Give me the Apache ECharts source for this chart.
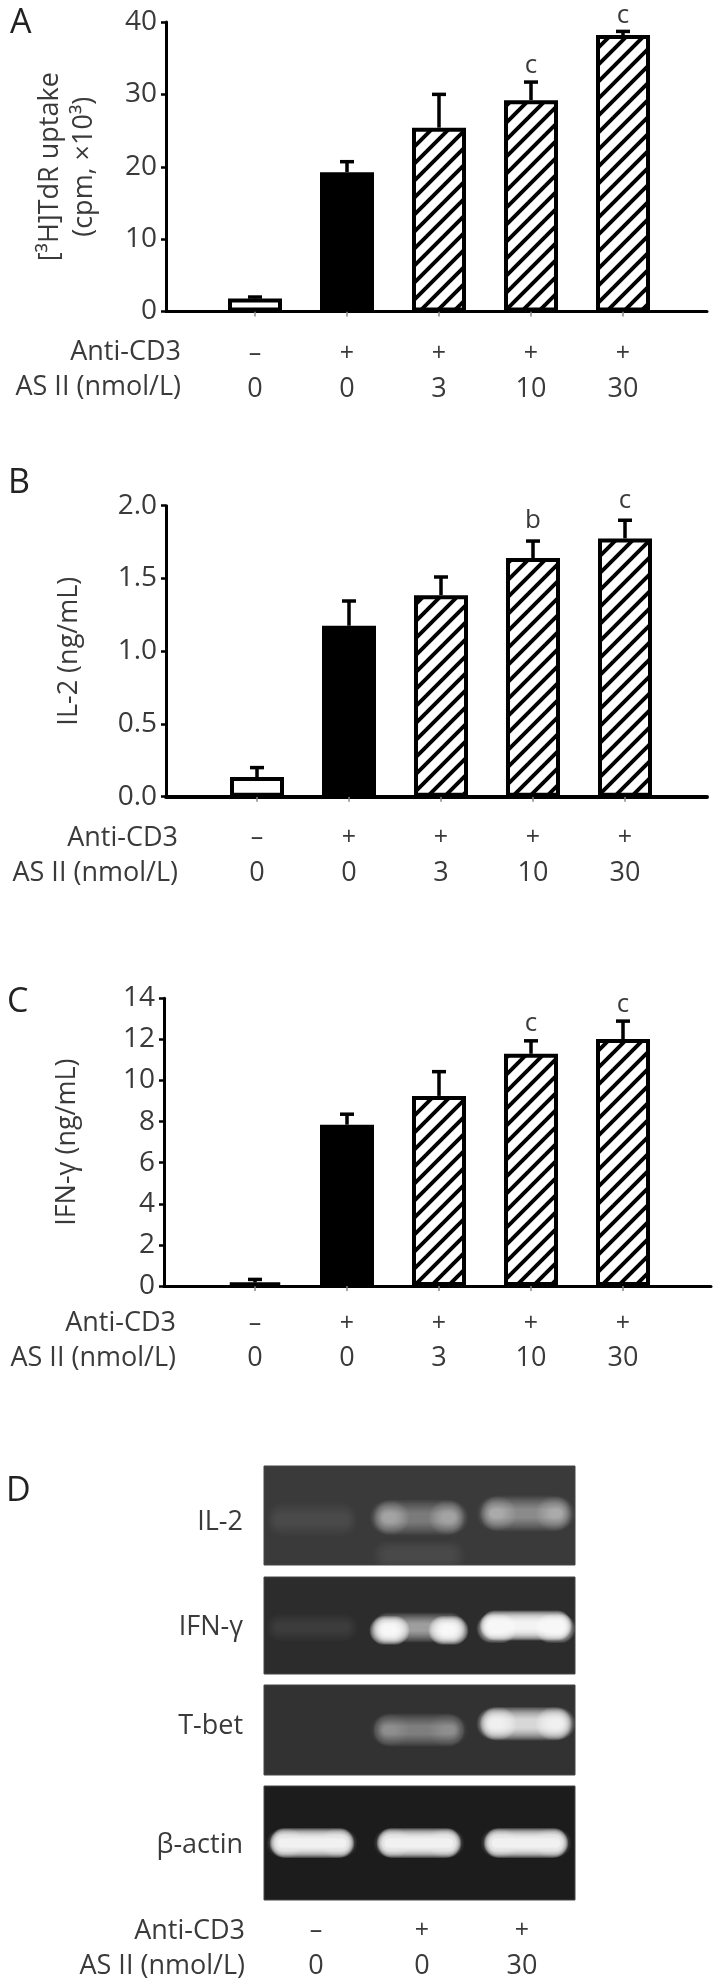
<!DOCTYPE html>
<html><head><meta charset="utf-8">
<style>html,body{margin:0;padding:0;background:#fff}#c{width:714px;height:1987px;filter:blur(0.6px)}</style>
<script src="https://cdn.jsdelivr.net/npm/echarts@6/dist/echarts.min.js"></script>
</head><body><div id="c"></div>
<script>
const antiCD3 = ['–','+','+','+','+'];
const asII = ['0','0','3','10','30'];
const aValues = [1.8,19.25,25.4,29.2,38.2];
const aErrTop = [2.0,20.7,30.0,31.7,38.7];
const aMarks = ['','','','c','c'];
const bValues = [0.135,1.175,1.385,1.64,1.775];
const bErrTop = [0.2,1.345,1.51,1.757,1.9];
const bMarks = ['','','','b','c'];
const cValues = [0.17,7.85,9.25,11.3,12.02];
const cErrTop = [0.32,8.36,10.43,11.93,12.89];
const cMarks = ['','','','c','c'];
const gelAntiCD3 = ['–','+','+'];
const gelAsII = ['0','0','30'];
const il2Base = [0.05,0.16,0.2], il2Ends = [0.03,0.15,0.14], il2Pos = [0.54,0.52,0.48], il2Smear = [0,0.03,0];
const ifnBase = [0.05,0.3,1], ifnEnds = [0.03,1,0.6], ifnPos = [0.52,0.52,0.5], ifnSmear = [0,0,0];
const tbetBase = [0,0.19,0.6], tbetEnds = [0,0.08,0.45], tbetPos = [0.5,0.5,0.43], tbetSmear = [0,0,0];
const actinBase = [1,1,1], actinEnds = [0.2,0.2,0.2], actinPos = [0.5,0.5,0.5], actinSmear = [0,0,0];

const FONT = '"Open Sans","Noto Sans",sans-serif';
const TXT = '#3a3a3a';
const grids=[], xAxes=[], yAxes=[], series=[], graphics=[];

// Diagonal hatch tile for the treated bars
const TILE=17;
const tile=document.createElement('canvas'); tile.width=TILE; tile.height=TILE;
(function(){const t=tile.getContext('2d'),S=TILE;t.fillStyle='#fff';t.fillRect(0,0,S,S);t.strokeStyle='#000';t.lineWidth=3.9;
  [[-S,S,S,-S],[0,S,S,0],[0,2*S,2*S,0]].forEach(([a,b,c,d])=>{t.beginPath();t.moveTo(a,b);t.lineTo(c,d);t.stroke();});})();
const hatchFill={image:tile,repeat:'repeat'};

function panel(o){
  const g=grids.length;
  grids.push({left:o.left,width:o.right-o.left,top:o.top,height:o.bottom-o.top,containLabel:false});
  const unit=o.unit, xmin=-(o.c0-o.left)/unit, xmax=(o.right-o.c0)/unit;
  xAxes.push({gridIndex:g,type:'value',min:xmin,max:xmax,splitLine:{show:false},
    axisLine:{show:true,onZero:false,lineStyle:{color:'#000',width:o.xw||3}},
    axisTick:{show:true,customValues:[0,1,2,3,4],length:5,inside:false,lineStyle:{color:'#888',width:1.5}},
    axisLabel:{show:true,customValues:[0,1,2,3,4],margin:o.labelMargin,color:TXT,fontFamily:FONT,
      formatter:v=>`{p|${antiCD3[Math.round(v)]}}\n{n|${asII[Math.round(v)]}}`,
      rich:{p:{fontSize:25,lineHeight:35,color:TXT,fontFamily:FONT},n:{fontSize:27,lineHeight:35,color:TXT,fontFamily:FONT}}}});
  yAxes.push({gridIndex:g,type:'value',min:0,max:o.max,interval:o.interval,splitLine:{show:false},
    axisLine:{show:true,onZero:false,lineStyle:{color:'#000',width:3}},
    axisTick:{show:true,length:5,lineStyle:{color:'#000',width:2.5}},
    axisLabel:{margin:9,color:TXT,fontFamily:FONT,fontSize:28,formatter:o.fmt},
    name:o.name,nameLocation:'middle',nameGap:o.nameGap,nameRotate:90,
    nameTextStyle:{color:TXT,fontFamily:FONT,fontSize:27,lineHeight:34}});
  const styles=[{color:'#fff',borderColor:'#000',borderWidth:4},{color:'#000',borderColor:'#000',borderWidth:4}];
  series.push({type:'bar',xAxisIndex:g,yAxisIndex:g,barWidth:54,silent:true,animation:false,
    data:o.values.map((v,i)=>({value:[i,v],itemStyle:i<2?styles[i]:{color:hatchFill,borderColor:'#000',borderWidth:4}}))});
  series.push({type:'custom',xAxisIndex:g,yAxisIndex:g,silent:true,animation:false,z:1,
    data:o.values.map((v,i)=>[i,v,o.err[i]]),
    encode:{x:0,y:[1,2]},
    renderItem(p,api){
      const a=api.coord([api.value(0),api.value(1)]), b=api.coord([api.value(0),api.value(2)]);
      const ls={stroke:'#000',lineWidth:3.5};
      return {type:'group',children:[
        {type:'line',shape:{x1:a[0],y1:a[1],x2:b[0],y2:b[1]},style:ls},
        {type:'line',shape:{x1:a[0]-7,y1:b[1],x2:a[0]+7,y2:b[1]},style:ls},
        {type:'text',style:{text:o.marks[p.dataIndex],x:a[0],y:b[1]-o.markGap,align:'center',verticalAlign:'middle',fontSize:26,fontFamily:FONT,fill:TXT}}
      ]};
    }});
  graphics.push({type:'text',x:o.letterX,y:o.letterY,style:{text:o.letter,align:'left',verticalAlign:'middle',fontSize:34,fontFamily:FONT,fill:'#222'}});
  [['Anti-CD3',o.row1],['AS II (nmol/L)',o.row2]].forEach(([t,y])=>graphics.push({type:'text',x:o.rowRight,y:y,
    style:{text:t,align:'right',verticalAlign:'middle',fontSize:27,fontFamily:FONT,fill:TXT}}));
}
panel({letter:'A',letterX:10,letterY:23,left:166,right:707,top:22,bottom:311.5,c0:255,unit:92,max:40,interval:10,markGap:16,
  values:aValues,err:aErrTop,marks:aMarks,name:'[³H]TdR uptake\n(cpm, ×10³)',nameGap:65,labelMargin:25,row1:352,row2:387,rowRight:181});
panel({letter:'B',letterX:8,letterY:483,left:166,right:707,top:505.7,bottom:796.7,c0:257,unit:92,max:2,interval:0.5,fmt:v=>v.toFixed(1),xw:4,markGap:20,
  values:bValues,err:bErrTop,marks:bMarks,name:'IL-2 (ng/mL)',nameGap:80,labelMargin:24,row1:838,row2:873,rowRight:178});
panel({letter:'C',letterX:7,letterY:1002,left:164,right:711,top:998.3,bottom:1286,c0:255,unit:92,max:14,interval:2,markGap:17,
  values:cValues,err:cErrTop,marks:cMarks,name:'IFN-γ (ng/mL)',nameGap:80,labelMargin:20,row1:1323,row2:1358,rowRight:176});

// Panel D: gels
const gels=[
 {name:'IL-2',labelY:1522,top:1466,bottom:1565,bg:'#3a3a3a',base:il2Base,ends:il2Ends,pos:il2Pos,smear:il2Smear,h:30,arch:0,wf:.86},
 {name:'IFN-γ',labelY:1627,top:1577,bottom:1674,bg:'#2c2c2c',base:ifnBase,ends:ifnEnds,pos:ifnPos,smear:ifnSmear,h:25,arch:3,wf:.86},
 {name:'T-bet',labelY:1726,top:1685,bottom:1775,bg:'#323232',base:tbetBase,ends:tbetEnds,pos:tbetPos,smear:tbetSmear,h:28,arch:0,wf:.86},
 {name:'β-actin',labelY:1845,top:1786,bottom:1900,bg:'#1c1c1c',base:actinBase,ends:actinEnds,pos:actinPos,smear:actinSmear,h:25,arch:0,wf:.79}];
const lane0=312, laneU=107, gL=264, gR=575;
gels.forEach(gel=>{
  const g=grids.length;
  grids.push({left:gL,width:gR-gL,top:gel.top,height:gel.bottom-gel.top,show:true,backgroundColor:gel.bg,borderColor:'#444',borderWidth:1});
  xAxes.push({gridIndex:g,type:'value',show:false,min:(gL-lane0)/laneU,max:(gR-lane0)/laneU});
  yAxes.push({gridIndex:g,type:'value',show:false,min:0,max:1,inverse:true});
  series.push({type:'custom',xAxisIndex:g,yAxisIndex:g,silent:true,animation:false,clip:true,
    data:gel.base.map((b,i)=>[i,gel.pos[i],b,gel.ends[i],gel.smear[i]]),
    renderItem(p,api){
      const c=api.coord([api.value(0),api.value(1)]), base=api.value(2), ends=api.value(3), smear=api.value(4);
      const w=laneU*gel.wf, h=gel.h, kids=[], N=16;
      if(smear>0){ const y2=api.coord([api.value(0),0.9])[1];
        for(let k=0;k<6;k++){const f=1-k/6,ww=w*(0.7+0.3*f),hh=22*(0.3+f);
          kids.push({type:'rect',shape:{x:c[0]-ww/2,y:y2-hh/2,width:ww,height:hh,r:hh/2},style:{fill:'#fff',opacity:smear*0.5}});}
      }
      for(let k=0;k<N;k++){
        const f=1-k/N, ww=w*(0.78+0.22*f), hh=h*(0.25+0.95*f);
        kids.push({type:'rect',shape:{x:c[0]-ww/2,y:c[1]-hh/2,width:ww,height:hh,r:hh/2},
          style:{fill:'#fff',opacity:Math.min(1,base*0.17)}});
      }
      [-1,1].forEach(s=>{for(let k=0;k<N;k++){
        const f=1-k/N, ww=w*0.36*(0.3+f*0.9), hh=h*(0.25+0.9*f);
        kids.push({type:'rect',shape:{x:c[0]+s*w*0.32-ww/2,y:c[1]+gel.arch-hh/2,width:ww,height:hh,r:hh/2},
          style:{fill:'#fff',opacity:Math.min(1,ends*0.17)}});
      }});
      return {type:'group',children:kids};
    }});
  graphics.push({type:'text',x:243,y:gel.labelY,
    style:{text:gel.name,align:'right',verticalAlign:'middle',fontSize:27,fontFamily:FONT,fill:TXT}});
});
graphics.push({type:'text',x:6,y:1491,style:{text:'D',align:'left',verticalAlign:'middle',fontSize:34,fontFamily:FONT,fill:'#222'}});
[['Anti-CD3',1931],['AS II (nmol/L)',1966]].forEach(([t,y],r)=>{
  graphics.push({type:'text',x:245,y:y,style:{text:t,align:'right',verticalAlign:'middle',fontSize:27,fontFamily:FONT,fill:TXT}});
  (r?gelAsII:gelAntiCD3).forEach((s,i)=>graphics.push({type:'text',x:[316,422,522][i],y:y,
    style:{text:s,align:'center',verticalAlign:'middle',fontSize:r?27:25,fontFamily:FONT,fill:TXT}}));
});

const chart=echarts.init(document.getElementById('c'),null,{renderer:'canvas'});
chart.setOption({animation:false,backgroundColor:'#fff',grid:grids,xAxis:xAxes,yAxis:yAxes,series,graphic:graphics});
</script></body></html>
